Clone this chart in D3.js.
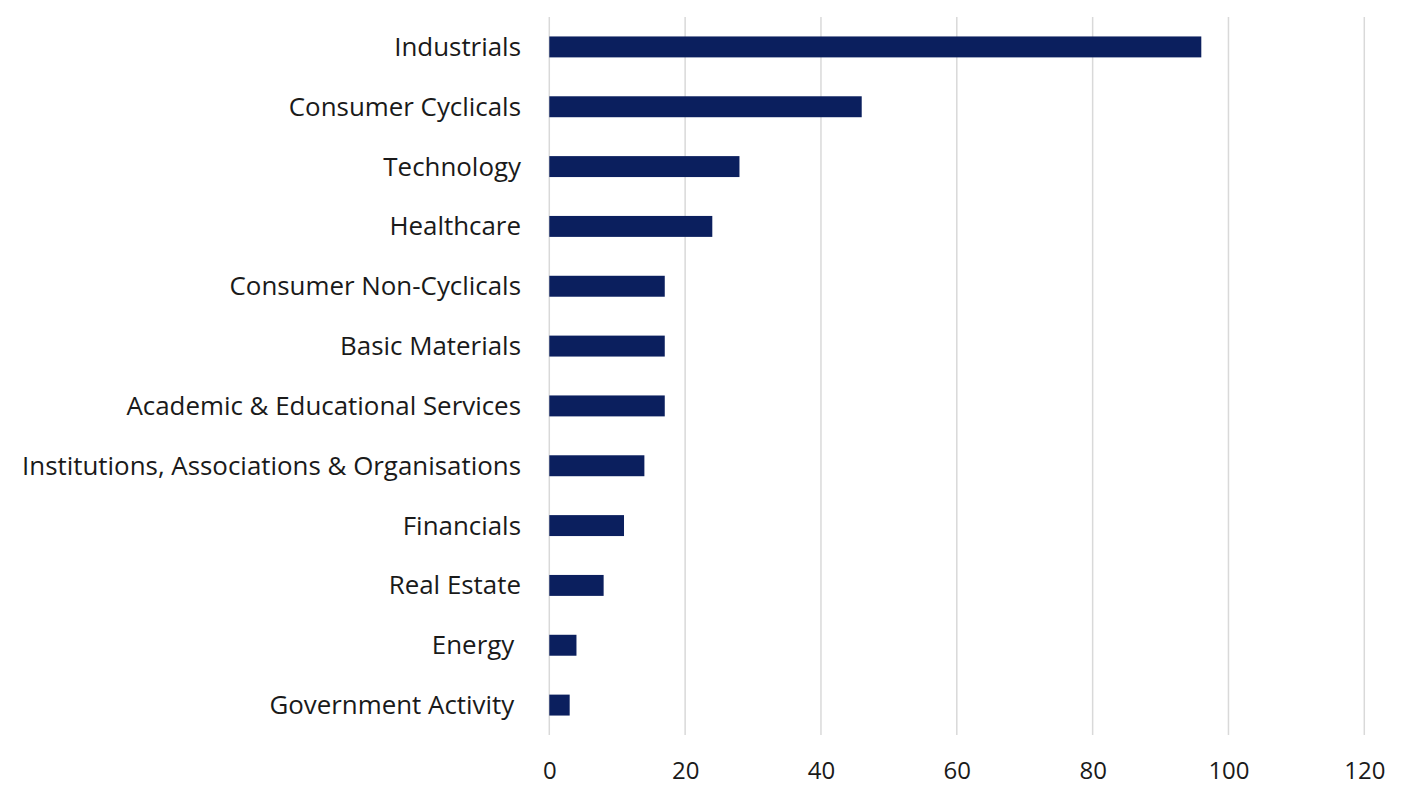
<!DOCTYPE html>
<html>
<head>
<meta charset="utf-8">
<script src="https://cdn.jsdelivr.net/npm/d3@7"></script>
<style>
  html, body { margin: 0; padding: 0; background: #fff; }
  text { white-space: pre; }
</style>
</head>
<body>
<svg id="chart" width="1421" height="787"></svg>
<script>
const categories = [
  "Industrials",
  "Consumer Cyclicals",
  "Technology",
  "Healthcare",
  "Consumer Non-Cyclicals",
  "Basic Materials",
  "Academic & Educational Services",
  "Institutions, Associations & Organisations",
  "Financials",
  "Real Estate",
  "Energy ",
  "Government Activity "
];
const values = [96, 46, 28, 24, 17, 17, 17, 14, 11, 8, 4, 3];
const tickValues = [0, 20, 40, 60, 80, 100, 120];

const svg = d3.select("#chart");
const x = d3.scaleLinear().domain([0, 120]).range([549.3, 1364.3]);
const y = d3.scaleBand().domain(categories).range([17, 735]).paddingInner(0.65).paddingOuter(0.325);

const font = "'Open Sans', 'Noto Sans', sans-serif";

// gridlines
svg.append("g").selectAll("line").data(tickValues).join("line")
  .attr("x1", d => x(d)).attr("x2", d => x(d))
  .attr("y1", 17).attr("y2", 735)
  .attr("stroke", "#d9d9d9").attr("stroke-width", 1.5);

// bars
svg.append("g").selectAll("rect").data(values).join("rect")
  .attr("x", x(0))
  .attr("y", (d, i) => y(categories[i]))
  .attr("width", d => x(d) - x(0))
  .attr("height", y.bandwidth())
  .attr("fill", "#0b1f5e");

// category labels
svg.append("g").selectAll("text").data(categories).join("text")
  .attr("x", 521)
  .attr("y", d => y(d) + y.bandwidth() / 2)
  .attr("dy", "0.35em")
  .attr("text-anchor", "end")
  .attr("font-family", font)
  .attr("font-size", 25.9)
  .attr("fill", "#1a1a1a")
  .text(d => d);

// tick labels
const xAxis = d3.axisBottom(x).tickValues(tickValues).tickSize(0).tickPadding(0);
const ax = svg.append("g").attr("transform", "translate(0,762)").call(xAxis);
ax.select(".domain").remove();
ax.selectAll("text")
  .attr("font-family", font)
  .attr("font-size", 24)
  .attr("fill", "#1a1a1a")
  .attr("dy", "0.71em");
</script>
</body>
</html>
